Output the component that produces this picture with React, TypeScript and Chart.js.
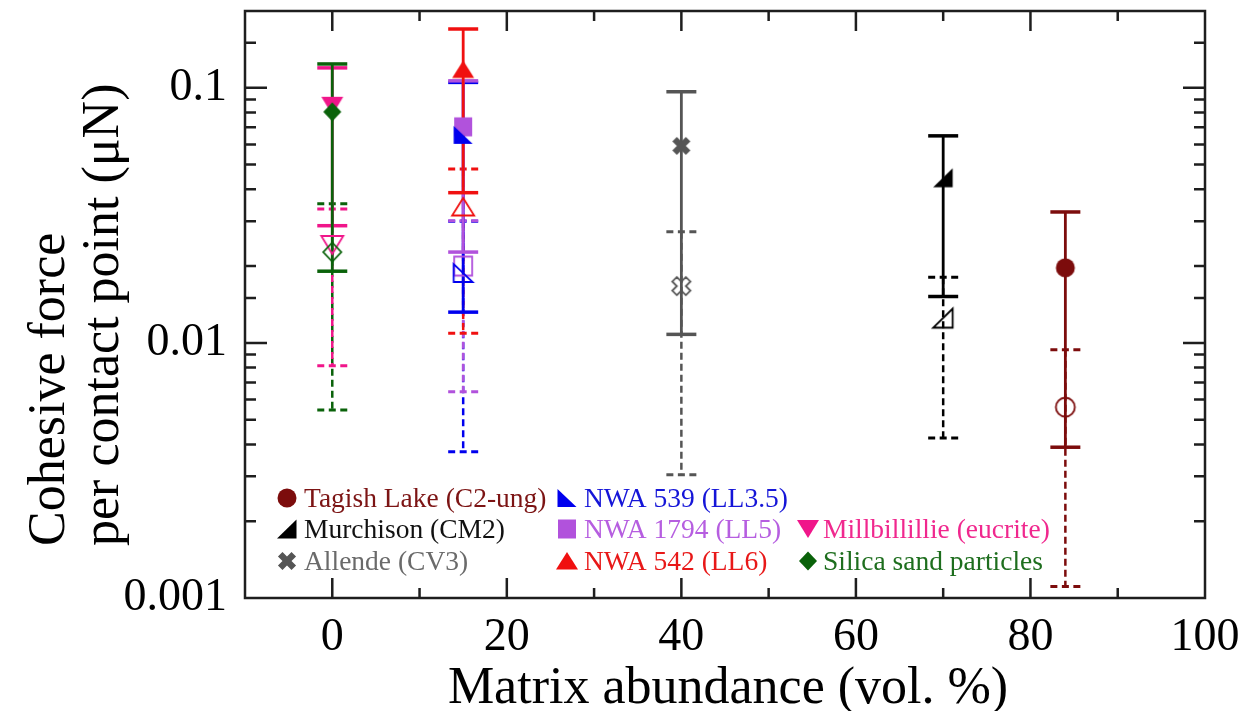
import React, { useEffect, useRef } from 'react';
import { Chart, registerables } from 'chart.js';
Chart.register(...registerables);

const FONT = "'Liberation Serif', 'Times New Roman', serif";

const sampleNames = [
  'Tagish Lake (C2-ung)',
  'Murchison (CM2)',
  'Allende (CV3)',
  'NWA 539 (LL3.5)',
  'NWA 1794 (LL5)',
  'NWA 542 (LL6)',
  'Millbillillie (eucrite)',
  'Silica sand particles',
];
const lineColors = ['#7c0c0c', '#000000', '#555555', '#0000ee', '#b152dc', '#f01010', '#f0168a', '#0a620a'];
const textColors = ['#7c1414', '#111111', '#6a6a6a', '#1515d8', '#b65ee0', '#e81818', '#f0288e', '#1e6e1e'];
const matrixAbundance = [84, 70, 40, 15, 15, 15, 0, 0];

// filled symbols with solid error bars
const filledValue = [0.0197, 0.0444, 0.0592, 0.0654, 0.0703, 0.118, 0.085, 0.0805];
const filledLow = [0.0039, 0.0152, 0.0108, 0.0132, 0.0227, 0.0388, 0.0288, 0.0191];
const filledHigh = [0.0326, 0.0648, 0.0965, 0.105, 0.1065, 0.17, 0.1197, 0.124];
// open symbols with dashed error bars
const openValue = [0.0056, 0.0125, 0.0167, 0.0188, 0.0200, 0.0341, 0.0242, 0.0227];
const openLow = [0.00111, 0.00424, 0.00304, 0.00374, 0.00643, 0.0109, 0.00813, 0.00546];
const openHigh = [0.0094, 0.0181, 0.0273, 0.030, 0.0301, 0.0481, 0.0335, 0.0351];

const xTickLabels = ['0', '20', '40', '60', '80', '100'];
const yTickLabels = ['0.001', '0.01', '0.1'];

type Shape = 'circle' | 'rightTri' | 'cross' | 'leftTri' | 'square' | 'upTri' | 'downTri' | 'diamond';
const markerShapes: Shape[] = ['circle', 'rightTri', 'cross', 'leftTri', 'square', 'upTri', 'downTri', 'diamond'];
const drawOrder = [0, 0, 0, 0, 1, 0, 1, 0];

function shapePath(ctx: CanvasRenderingContext2D, shape: Shape, c: number) {
  ctx.beginPath();
  const poly = (pts: number[][]) => {
    ctx.moveTo(c + pts[0][0], c + pts[0][1]);
    for (let i = 1; i < pts.length; i++) ctx.lineTo(c + pts[i][0], c + pts[i][1]);
    ctx.closePath();
  };
  switch (shape) {
    case 'circle':
      ctx.arc(c, c, 9.5, 0, Math.PI * 2);
      break;
    case 'square':
      poly([[-9, -9.5], [9, -9.5], [9, 9.5], [-9, 9.5]]);
      break;
    case 'diamond':
      poly([[0, -9.5], [9, 0], [0, 9.5], [-9, 0]]);
      break;
    case 'upTri':
      poly([[0, -9], [11, 8.5], [-11, 8.5]]);
      break;
    case 'downTri':
      poly([[-11, -9], [11, -9], [0, 9]]);
      break;
    case 'leftTri':
      poly([[-9.5, -9], [-9.5, 9], [9.5, 9]]);
      break;
    case 'rightTri':
      poly([[9.5, -9.5], [9.5, 9.5], [-10, 9.5]]);
      break;
    case 'cross': {
      const d = 3.2, L = 9.6;
      const uv = [[d, d], [L, d], [L, -d], [d, -d], [d, -L], [-d, -L], [-d, -d], [-L, -d], [-L, d], [-d, d], [-d, L], [d, L]];
      poly(uv.map(([u, v]) => [(u - v) / Math.SQRT2, (u + v) / Math.SQRT2]));
      break;
    }
  }
}

function makeMarker(shape: Shape, color: string, filled: boolean): HTMLCanvasElement {
  const size = 28;
  const cv = document.createElement('canvas');
  cv.width = size;
  cv.height = size;
  const ctx = cv.getContext('2d')!;
  shapePath(ctx, shape, size / 2);
  if (filled) {
    ctx.fillStyle = color;
    ctx.fill();
  } else {
    ctx.strokeStyle = color;
    ctx.lineWidth = 1.8;
    ctx.stroke();
  }
  return cv;
}

export default function App() {
  const ref = useRef<HTMLCanvasElement | null>(null);

  useEffect(() => {
    document.body.style.margin = '0';
    const canvas = ref.current;
    if (!canvas) return;

    const filledMarkers = markerShapes.map((s, i) => makeMarker(s, lineColors[i], true));
    const openMarkers = markerShapes.map((s, i) => makeMarker(s, lineColors[i], false));

    const datasets: any[] = [];
    sampleNames.forEach((name, i) => {
      datasets.push({
        label: name,
        data: [{ x: matrixAbundance[i], y: filledValue[i] }],
        pointStyle: filledMarkers[i],
        pointRadius: 10,
        showLine: false,
        order: drawOrder[i],
      });
      datasets.push({
        label: name + ' (open)',
        data: [{ x: matrixAbundance[i], y: openValue[i] }],
        pointStyle: openMarkers[i],
        pointRadius: 10,
        showLine: false,
        order: drawOrder[i],
      });
    });

    const errorBars = {
      id: 'errorBars',
      beforeDatasetsDraw(chart: any) {
        const { ctx, scales } = chart;
        const xs = scales.x, ys = scales.y;
        const bar = (i: number, lo: number, hi: number, dashed: boolean) => {
          const x = xs.getPixelForValue(matrixAbundance[i]);
          const yl = ys.getPixelForValue(lo);
          const yh = ys.getPixelForValue(hi);
          ctx.save();
          ctx.strokeStyle = lineColors[i];
          ctx.lineCap = 'butt';
          ctx.lineWidth = dashed ? 2.5 : 2.8;
          ctx.setLineDash(dashed ? [7, 4] : []);
          ctx.beginPath();
          ctx.moveTo(x, yh);
          ctx.lineTo(x, yl);
          ctx.stroke();
          ctx.lineWidth = dashed ? 3 : 3.5;
          ctx.setLineDash(dashed ? [7, 4.5] : []);
          for (const y of [yl, yh]) {
            ctx.beginPath();
            ctx.moveTo(x - 15, y);
            ctx.lineTo(x + 15, y);
            ctx.stroke();
          }
          ctx.restore();
        };
        const dashedOrder = [7, 6, 3, 4, 5, 0, 1, 2];
        const solidOrder = [6, 7, 3, 4, 5, 0, 1, 2];
        dashedOrder.forEach((i) => bar(i, openLow[i], openHigh[i], true));
        solidOrder.forEach((i) => bar(i, filledLow[i], filledHigh[i], false));
      },
    };

    const frame = {
      id: 'frame',
      afterDraw(chart: any) {
        const { ctx, chartArea: a, scales } = chart;
        ctx.save();
        ctx.strokeStyle = '#1e1e1e';
        ctx.lineWidth = 2.5;
        ctx.strokeRect(a.left, a.top, a.right - a.left, a.bottom - a.top);
        ctx.lineWidth = 2.5;
        ctx.beginPath();
        scales.x.ticks.forEach((t: any) => {
          const v = t.value;
          if (v <= scales.x.min || v >= scales.x.max) return;
          const px = scales.x.getPixelForValue(v);
          const len = Math.round(v) % 20 === 0 ? 20 : 10;
          ctx.moveTo(px, a.bottom);
          ctx.lineTo(px, a.bottom - len);
          ctx.moveTo(px, a.top);
          ctx.lineTo(px, a.top + len);
        });
        scales.y.ticks.forEach((t: any) => {
          const v = t.value;
          if (v <= scales.y.min * 1.0001 || v >= scales.y.max * 0.9999) return;
          const py = scales.y.getPixelForValue(v);
          const lg = Math.log10(v);
          const major = Math.abs(lg - Math.round(lg)) < 1e-6;
          const len = major ? 22 : 11;
          ctx.moveTo(a.left, py);
          ctx.lineTo(a.left + len, py);
          ctx.moveTo(a.right, py);
          ctx.lineTo(a.right - len, py);
        });
        ctx.stroke();

        // axis titles
        ctx.fillStyle = '#000';
        ctx.font = `52px ${FONT}`;
        ctx.textAlign = 'center';
        ctx.textBaseline = 'alphabetic';
        ctx.fillText('Matrix abundance (vol. %)', (a.left + a.right) / 2 + 3, 703);
        ctx.save();
        ctx.translate(64, 546);
        ctx.rotate(-Math.PI / 2);
        ctx.textAlign = 'left';
        ctx.fillText('Cohesive force', 0, 0);
        ctx.fillText('per contact point (\u03bcN)', 0, 54);
        ctx.restore();

        // legend
        const colMarkerX = [287, 567, 808];
        const colTextX = [304, 584, 823];
        const rowBase = [507, 538, 570];
        const legendCol = [0, 0, 0, 1, 1, 1, 2, 2];
        const legendRow = [0, 1, 2, 0, 1, 2, 1, 2];
        ctx.font = `27.5px ${FONT}`;
        ctx.textAlign = 'left';
        ctx.textBaseline = 'alphabetic';
        sampleNames.forEach((name, i) => {
          const c = legendCol[i], r = legendRow[i];
          const m = filledMarkers[i];
          ctx.drawImage(m, colMarkerX[c] - m.width / 2, rowBase[r] - 9 - m.height / 2);
          ctx.fillStyle = textColors[i];
          ctx.fillText(name, colTextX[c], rowBase[r]);
        });
        ctx.restore();
      },
    };

    const chart = new Chart(canvas, {
      type: 'scatter',
      data: { datasets },
      options: {
        responsive: false,
        animation: false,
        devicePixelRatio: 1,
        layout: { padding: { left: 0, right: 47, top: 11, bottom: 0 } },
        plugins: { legend: { display: false }, tooltip: { enabled: false } },
        events: [],
        scales: {
          x: {
            type: 'linear',
            min: -10,
            max: 100,
            grid: { display: false, drawTicks: false },
            border: { display: false },
            ticks: {
              stepSize: 10,
              autoSkip: false,
              maxRotation: 0,
              padding: 12,
              color: '#000',
              font: { family: FONT, size: 46 },
              callback: (v: any) => {
                const s = String(v);
                return xTickLabels.includes(s) ? s : '';
              },
            },
            afterFit: (s: any) => {
              s.height = 113;
              s.paddingLeft = 0;
              s.paddingRight = 0;
            },
          },
          y: {
            type: 'logarithmic',
            min: 0.001,
            max: 0.2,
            grid: { display: false, drawTicks: false },
            border: { display: false },
            ticks: {
              autoSkip: false,
              padding: 18,
              color: '#000',
              font: { family: FONT, size: 46 },
              callback: (v: any) => {
                const n = Number(v);
                const lg = Math.log10(n);
                if (Math.abs(lg - Math.round(lg)) > 1e-6) return '';
                const s = String(Number(n.toPrecision(3)));
                return yTickLabels.includes(s) ? s : '';
              },
            },
            afterFit: (s: any) => {
              s.width = 245;
              s.paddingTop = 0;
              s.paddingBottom = 0;
            },
          },
        },
      },
      plugins: [errorBars, frame],
    } as any);

    return () => chart.destroy();
  }, []);

  return (
    <div style={{ width: 1252, height: 711, background: '#fff' }}>
      <canvas ref={ref} width={1252} height={711} style={{ display: 'block' }} />
    </div>
  );
}
